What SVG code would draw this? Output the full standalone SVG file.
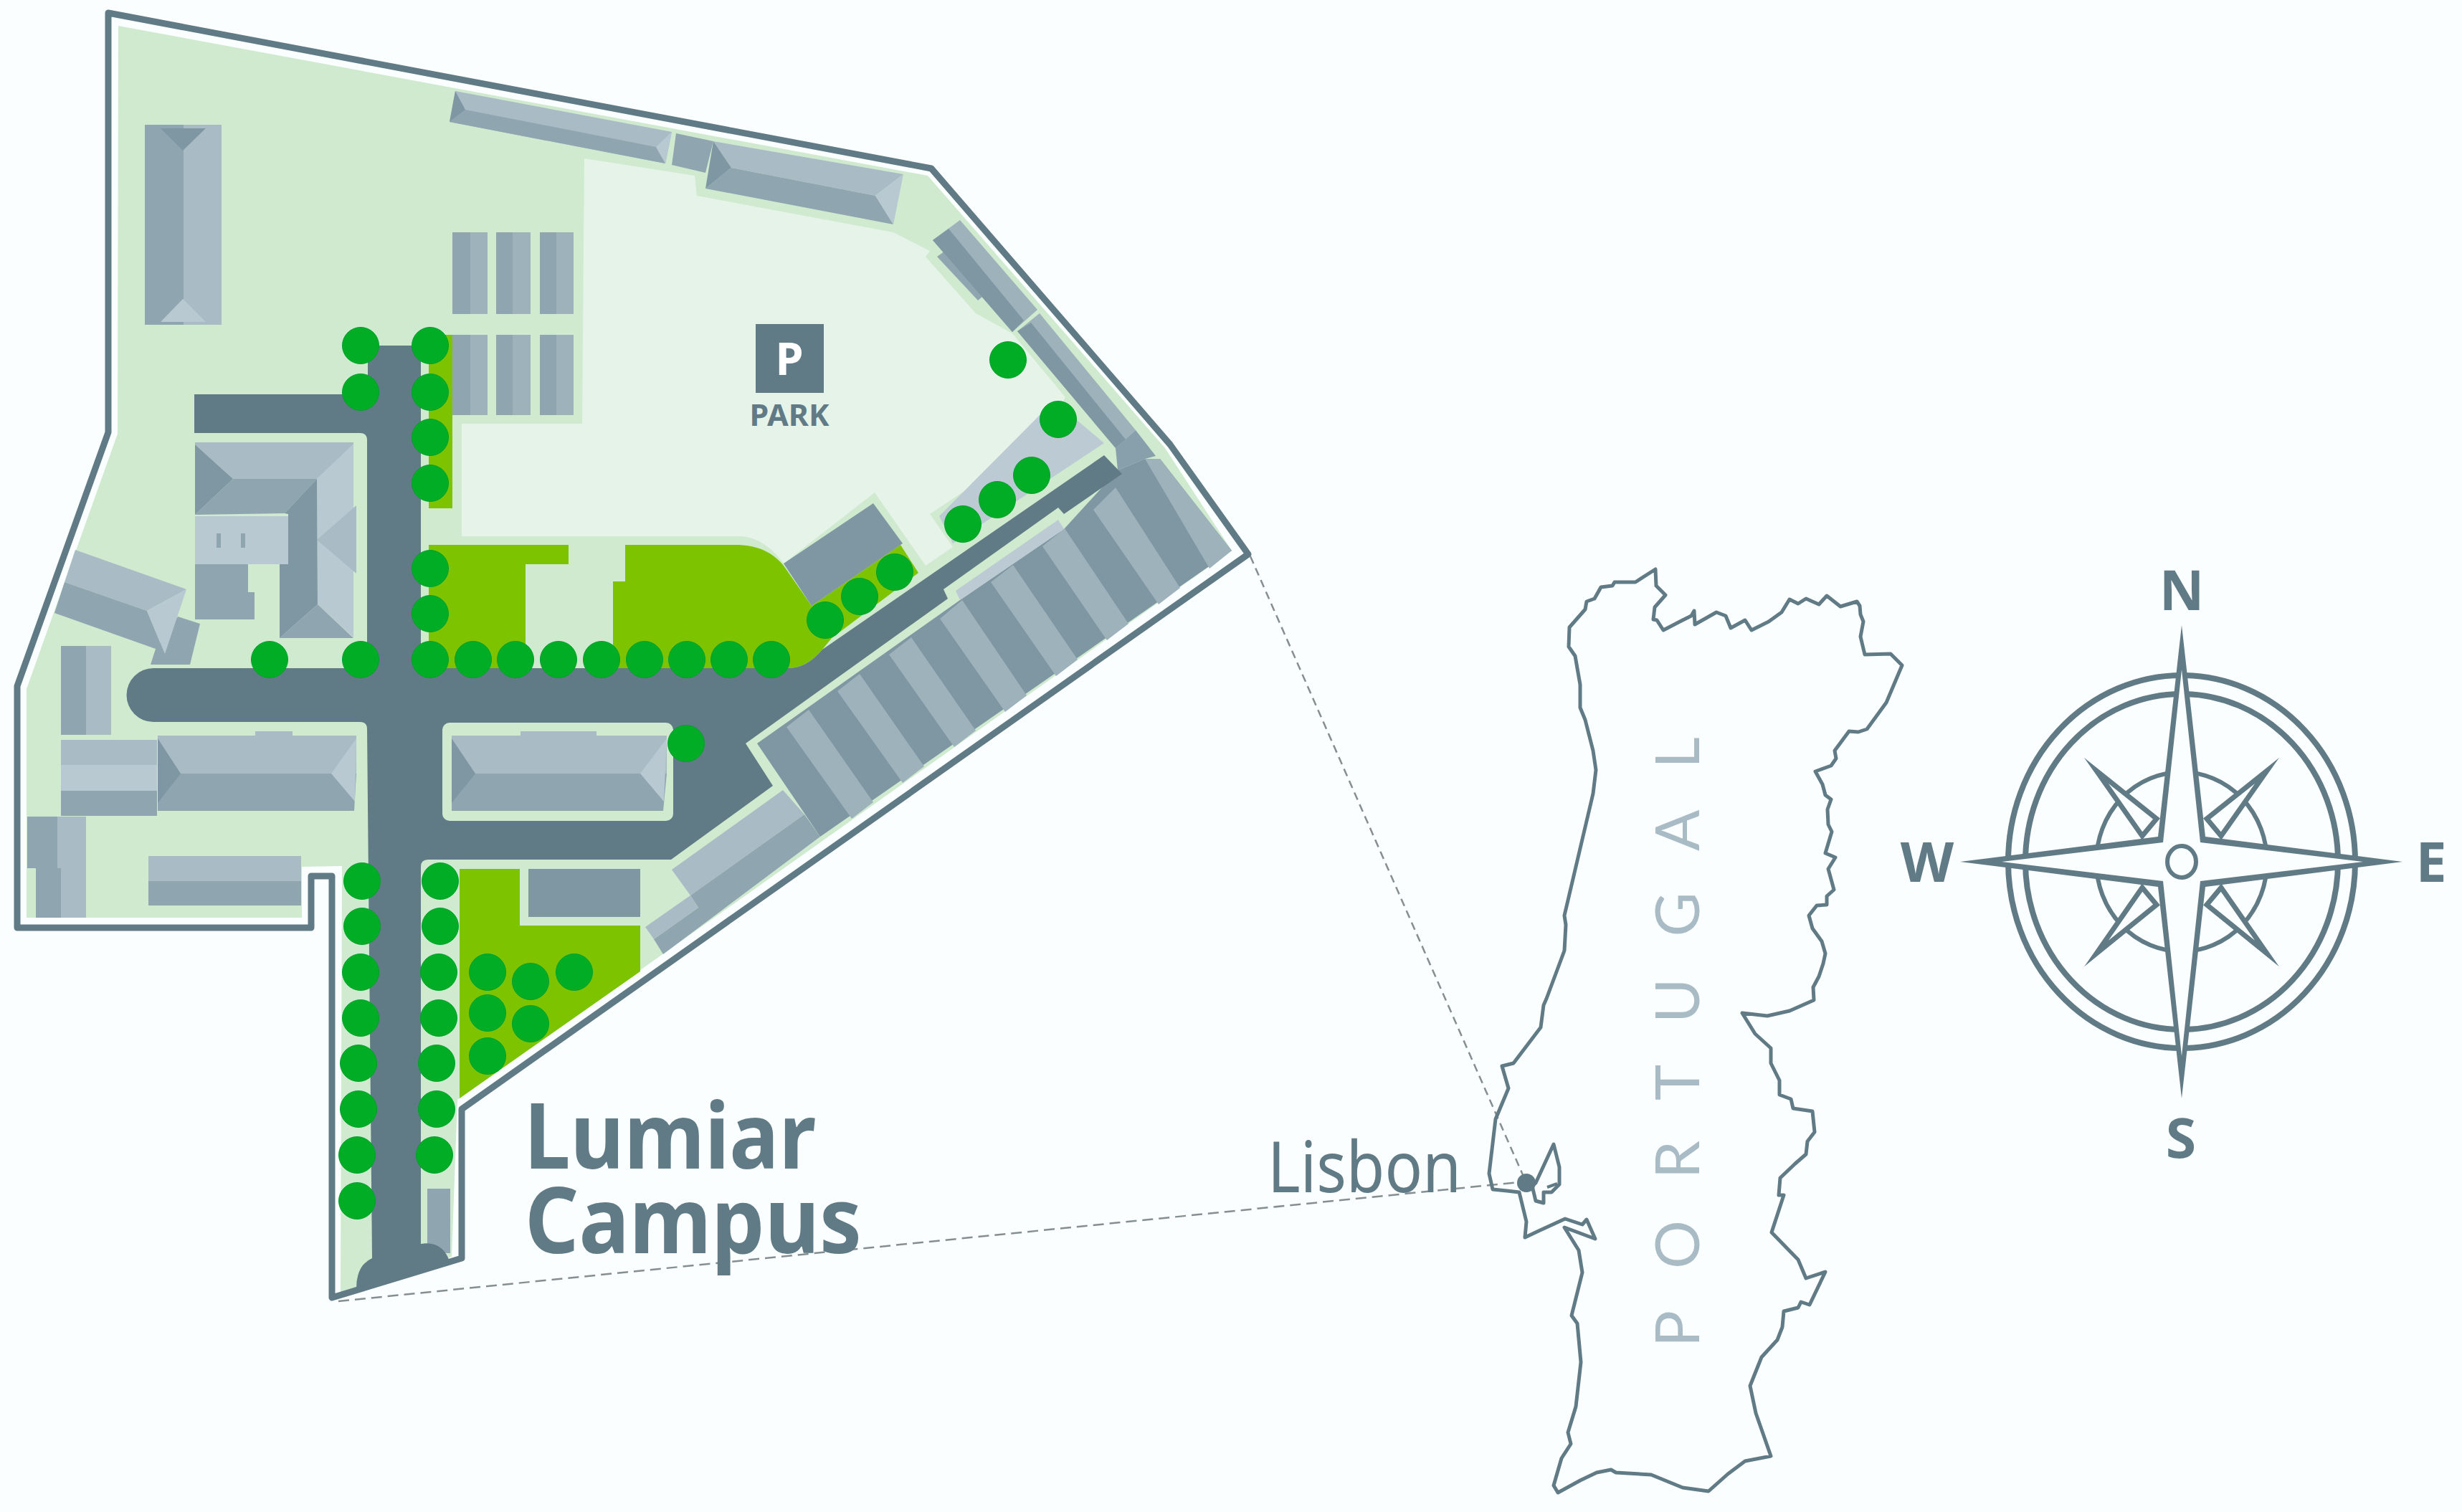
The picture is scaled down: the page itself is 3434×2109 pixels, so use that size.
<svg xmlns="http://www.w3.org/2000/svg" width="3434" height="2109" viewBox="0 0 3434 2109">
<style>
.bd{fill:#7f97a2}.bm{fill:#8fa5b0}.bl{fill:#a9bcc6}.bx{fill:#b8c9d2}.bs{fill:#9eb2bb}
.gr{fill:#7dc300}.road{fill:#607b85}.tree{fill:#00ad25;stroke:#00a02c;stroke-width:1}
.ln{fill:none;stroke:#607b85;stroke-linejoin:round}
.dash{fill:none;stroke:#858e90;stroke-width:2.5}
text{font-family:"Noto Sans","Open Sans","Liberation Sans",sans-serif;fill:#607b85}
.b{font-weight:700}
</style>
<rect width="3434" height="2109" fill="#fbfefe"/>
<g id="campus">
<path id="land" fill="#cfeacf" d="M165,36L1294,245L1625,625L1718,768L638,1534L630,1753L500,1796L475,1802L477,1208L421,1209V1280H37V961L164,605Z"/>
<path id="park-area" fill="#e6f3e8" d="M815,221L969,245L972,273L1246,324L1297,350L1291,358L1361,437L1412,465L1486,554L1457,610L1297,717L1329,763L1291,789L1220,687L1093,786Q1065,748 1030,748H644V591H812Z"/>
<path class="ln" stroke-width="9" d="M151,18L1299,235L1632,620L1741,773L644,1547V1755L463,1810V1222H434V1294H24V957L151,603Z"/>
</g>
<g id="green-areas">
<rect class="gr" x="598" y="467" width="33" height="242"/>
<path class="gr" d="M598,760H793V787H733V932H598Z"/>
<path class="gr" d="M872,760H1030Q1070,761 1093,789L1132,845L1256,760L1281,799L1160,890L1147,906Q1125,932 1100,932H855V811H872Z"/>
<path class="gr" d="M641,1212H725V1291H893V1355L641,1532Z"/>
</g>
<g id="buildings">
<g id="b-north-west"><rect class="bm" x="202" y="174" width="54" height="279"/><rect class="bl" x="256" y="174" width="53" height="279"/><path class="bd" d="M224,179H287L255,210Z"/><path class="bx" d="M224,449H287L255,417Z"/></g>
<g id="b-north-1"><path class="bl" d="M635,127L937,184L928,228L627,170Z"/><path class="bm" d="M649,153L915,205L928,228L627,170Z"/><path class="bd" d="M635,127L649,153L627,170Z"/><path class="bx" d="M937,184L915,205L928,228Z"/></g>
<path id="b-north-2" class="bm" d="M943,186L995,197L984,241L937,230Z"/>
<g id="b-north-3"><path class="bl" d="M995,197L1260,243L1221,273L1020,234Z"/><path class="bm" d="M1020,234L1221,273L1246,313L984,263Z"/><path class="bd" d="M995,197L1020,234L984,263Z"/><path class="bx" d="M1260,243L1246,313L1221,273Z"/></g>
<g id="b-parking-sheds">
<g class="bs"><rect x="631" y="324" width="49" height="114"/><rect x="692" y="324" width="48" height="114"/><rect x="753" y="324" width="47" height="114"/><rect x="631" y="467" width="49" height="112"/><rect x="692" y="467" width="48" height="112"/><rect x="753" y="467" width="47" height="112"/></g>
<g class="bm"><rect x="631" y="324" width="25" height="114"/><rect x="692" y="324" width="23" height="114"/><rect x="753" y="324" width="23" height="114"/><rect x="631" y="467" width="25" height="112"/><rect x="692" y="467" width="23" height="112"/><rect x="753" y="467" width="23" height="112"/></g>
</g>
<g id="b-east-1"><path class="bm" d="M1307,358L1325,345L1375,410L1364,419Z"/><path class="bs" d="M1339,307L1447,432L1412,463L1301,335Z"/><path class="bd" d="M1323,319L1428,447L1412,463L1301,335Z"/></g>
<g id="b-east-2"><path class="bs" d="M1450,437L1584,600L1556,625L1419,462Z"/><path class="bd" d="M1438,450L1570,613L1556,625L1419,462Z"/><path fill="#88a0ab" d="M1556,625L1584,600L1612,636L1597,640L1559,656Z"/></g>
<path id="pavement" fill="#bccad3" d="M1470,559L1540,618L1329,758L1310,720Z"/>
<g id="b-long">
<path class="bd" d="M1056,1037L1339,837L1484,738L1559,656L1597,640L1618,640L1718,768L1144,1167Z"/>
<g class="bs"><path d="M1097,1014L1128,990L1218,1119L1188,1142Z"/><path d="M1168,964L1199,940L1289,1069L1259,1092Z"/><path d="M1240,913L1271,889L1361,1019L1331,1042Z"/><path d="M1311,863L1342,837L1432,970L1402,993Z"/><path d="M1382,812L1413,788L1503,920L1473,943Z"/><path d="M1454,762L1485,737L1574,870L1544,893Z"/><path d="M1525,711L1556,680L1646,820L1616,843Z"/><path d="M1597,640L1618,640L1718,768L1687,793Z"/></g>
<path fill="#bccad3" d="M1476,725L1484,738L1339,837L1333,824Z"/>
</g>
<path id="b-centre-north" class="bd" d="M1218,702L1259,758L1132,845L1093,786Z"/>
<g id="b-south-east"><path class="bl" d="M1092,1102L1122,1136L963,1249L937,1213Z"/><path class="bm" d="M1122,1136L1144,1167L925,1331L912,1310L974,1266L963,1249Z"/><path class="bl" d="M963,1249L974,1266L912,1310L900,1293Z"/></g>
<rect id="b-south" class="bd" x="737" y="1212" width="156" height="67"/>
<g id="b-court">
<path class="bl" d="M272,617H493V620L442,668H325L272,620Z"/>
<path class="bd" d="M272,620L325,668L272,718Z"/>
<path class="bm" d="M325,668H442L397,716L272,718Z"/>
<path class="bx" d="M493,619L442,668L443,843L493,889Z"/>
<path class="bl" d="M442,753L497,705V800Z"/>
<path class="bd" d="M442,668L397,716L402,717V787H390V890L443,843Z"/>
<path class="bm" d="M443,843L390,890H493Z"/>
<rect class="bx" x="272" y="720" width="130" height="67"/>
<rect class="bm" x="302" y="744" width="6" height="20"/><rect class="bm" x="336" y="744" width="6" height="20"/>
<path class="bm" d="M272,787H346V826H355V864H272Z"/>
</g>
<g id="b-west-angled"><path class="bm" d="M248,860L279,870L265,927H210L217,905Z"/><path class="bl" d="M105,767L260,822L205,852L90,812Z"/><path class="bm" d="M90,812L205,852L230,912L217,905L76,855Z"/><path class="bx" d="M260,822L205,852L230,912Z"/></g>
<g id="b-west-1"><rect class="bm" x="85" y="901" width="35" height="124"/><rect class="bl" x="120" y="901" width="35" height="124"/></g>
<g id="b-west-2"><rect class="bl" x="85" y="1032" width="134" height="35"/><rect class="bx" x="85" y="1067" width="134" height="36"/><rect class="bm" x="85" y="1103" width="134" height="35"/></g>
<g id="b-west-3"><rect class="bl" x="356" y="1020" width="52" height="8"/><path class="bl" d="M220,1026H497V1079H220Z"/><path class="bm" d="M220,1079H497L494,1131H220Z"/><path class="bd" d="M220,1030L252,1079L220,1120Z"/><path class="bx" d="M497,1030L462,1079L495,1118Z"/></g>
<g id="b-west-4"><path class="bm" d="M38,1139H80V1211H85V1280H50V1211H38Z"/><path class="bl" d="M80,1139H120V1280H85V1211H80Z"/></g>
<g id="b-west-5"><rect class="bl" x="207" y="1194" width="213" height="35"/><rect class="bm" x="207" y="1229" width="213" height="34"/></g>
<rect id="b-gate" class="bm" x="596" y="1658" width="32" height="90"/>
</g>
<path id="roads" class="road" d="M271,550H513V482H587V932H1100Q1125,932 1147,906L1540,635L1565,661L1484,717L1476,708L1316,822L1322,835L1040,1037L1078,1096L936,1199H597Q587,1199 587,1209V1735Q618,1730 628,1762L497,1797Q497,1765 519,1755L512,1017Q512,1007 502,1007H214A37.5,37.5 0 0 1 214,932H512V614Q512,604 502,604H271Z"/>
<g id="island"><rect x="617" y="1008" width="322" height="137" rx="10" fill="#cfeacf"/>
<rect class="bl" x="726" y="1020" width="106" height="8"/><path class="bl" d="M630,1026H930V1079H630Z"/><path class="bm" d="M630,1079H930L925,1131H630Z"/><path class="bd" d="M630,1030L663,1079L630,1120Z"/><path class="bx" d="M930,1030L893,1079L926,1118Z"/></g>
<g id="trees" class="tree">
<circle cx="503" cy="482" r="25.5"/><circle cx="503" cy="547" r="25.5"/><circle cx="600" cy="482" r="25.5"/><circle cx="600" cy="547" r="25.5"/><circle cx="600" cy="610" r="25.5"/><circle cx="600" cy="674" r="25.5"/><circle cx="600" cy="793" r="25.5"/><circle cx="600" cy="856" r="25.5"/>
<circle cx="376" cy="920" r="25.5"/><circle cx="503" cy="920" r="25.5"/><circle cx="600" cy="920" r="25.5"/><circle cx="660" cy="920" r="25.5"/><circle cx="719" cy="920" r="25.5"/><circle cx="779" cy="920" r="25.5"/><circle cx="839" cy="920" r="25.5"/><circle cx="899" cy="920" r="25.5"/><circle cx="958" cy="920" r="25.5"/><circle cx="1017" cy="920" r="25.5"/><circle cx="1076" cy="920" r="25.5"/>
<circle cx="957" cy="1037" r="25.5"/><circle cx="1406" cy="502" r="25.5"/><circle cx="1476" cy="585" r="25.5"/><circle cx="1439" cy="663" r="25.5"/><circle cx="1391" cy="697" r="25.5"/><circle cx="1343" cy="731" r="25.5"/><circle cx="1248" cy="798" r="25.5"/><circle cx="1199" cy="832" r="25.5"/><circle cx="1151" cy="865" r="25.5"/>
<circle cx="505" cy="1229" r="25.5"/><circle cx="505" cy="1292" r="25.5"/><circle cx="503" cy="1356" r="25.5"/><circle cx="503" cy="1420" r="25.5"/><circle cx="500" cy="1483" r="25.5"/><circle cx="500" cy="1547" r="25.5"/><circle cx="498" cy="1611" r="25.5"/><circle cx="498" cy="1675" r="25.5"/>
<circle cx="614" cy="1229" r="25.5"/><circle cx="614" cy="1292" r="25.5"/><circle cx="612" cy="1356" r="25.5"/><circle cx="612" cy="1420" r="25.5"/><circle cx="609" cy="1483" r="25.5"/><circle cx="609" cy="1547" r="25.5"/><circle cx="606" cy="1611" r="25.5"/>
<circle cx="680" cy="1356" r="25.5"/><circle cx="740" cy="1369" r="25.5"/><circle cx="801" cy="1356" r="25.5"/><circle cx="680" cy="1413" r="25.5"/><circle cx="740" cy="1428" r="25.5"/><circle cx="680" cy="1473" r="25.5"/>
</g>
<g id="parking-sign"><rect class="road" x="1054" y="452" width="95" height="96"/><text class="b" x="1101" y="523" font-size="63" text-anchor="middle" style="fill:#fff">P</text><text class="b" x="1101" y="594" font-size="42" text-anchor="middle" textLength="111" lengthAdjust="spacingAndGlyphs">PARK</text></g>
<g id="connectors"><path class="dash" stroke-dasharray="11 7" d="M1744,776L2129,1650"/><path class="dash" stroke-dasharray="15 8" d="M472,1815L2129,1648"/></g>
<g id="title"><text class="b" x="731" y="1630" font-size="128" textLength="407" lengthAdjust="spacingAndGlyphs">Lumiar</text><text class="b" x="732" y="1748" font-size="128" textLength="470" lengthAdjust="spacingAndGlyphs">Campus</text></g>
<g id="portugal-map">
<path class="ln" stroke-width="5" d="M2309,794L2310,817L2323,830L2308,847L2306,864L2311,865L2320,879L2345,866L2359,859L2363,852L2364,871L2394,854L2407,859L2414,876L2434,865L2443,879L2467,867L2485,854L2496,836L2508,842L2519,835L2537,843L2548,831L2567,846L2590,839L2594,845L2595,857L2599,867L2595,888L2601,913L2637,912L2653,928L2631,980L2604,1017L2592,1021L2579,1020L2559,1047L2561,1058L2554,1068L2532,1076L2542,1094L2546,1109L2554,1115L2549,1129L2550,1150L2555,1160L2546,1190L2560,1196L2550,1212L2558,1241L2548,1250L2548,1262L2534,1263L2523,1277L2528,1295L2541,1313L2546,1330L2543,1344L2537,1362L2529,1377L2530,1395L2496,1410L2465,1417L2430,1413L2448,1442L2470,1462L2470,1483L2482,1507L2482,1527L2498,1533L2501,1546L2528,1550L2531,1579L2521,1592L2519,1610L2504,1623L2483,1643L2481,1667L2488,1667L2471,1719L2508,1757L2519,1783L2546,1774L2524,1820L2512,1816L2508,1824L2488,1829L2486,1851L2479,1869L2457,1893L2441,1933L2449,1971L2470,2031L2434,2038L2410,2056L2383,2080L2347,2075L2303,2057L2254,2054L2247,2050L2227,2054L2204,2065L2173,2082L2167,2072L2178,2034L2191,2014L2187,1998L2198,1962L2205,1900L2200,1846L2192,1835L2207,1775L2202,1744L2182,1712L2225,1728L2213,1701L2207,1708L2183,1700L2146,1717L2127,1726L2129,1704L2119,1663L2102,1661L2082,1659L2077,1637L2086,1561L2104,1518L2095,1487L2111,1483L2149,1433L2153,1402L2157,1393L2182,1326L2184,1290L2182,1277L2222,1107L2226,1074L2222,1047L2211,1004L2204,987L2204,955L2197,915L2188,902L2189,875L2211,850L2213,839L2224,835L2233,819L2249,817L2252,812L2281,812Z"/>
<path class="ln" stroke-width="5" d="M2142,1650L2167,1596L2175,1628L2175,1652L2164,1663L2153,1663L2153,1678L2142,1675L2137,1654Z"/>
<path class="ln" stroke-width="4" d="M2158,1656L2172,1651"/>
<circle class="road" cx="2129" cy="1650" r="13"/>
<text x="1768" y="1663" font-size="98" textLength="270" lengthAdjust="spacingAndGlyphs">Lisbon</text>
<text transform="translate(2370,1879) rotate(-90)" font-size="85" style="font-family:Lato,'Noto Sans',sans-serif;fill:#a9bcc6" textLength="851" lengthAdjust="spacing">PORTUGAL</text>
</g>
<g id="compass">
<ellipse class="ln" stroke-width="8" cx="3043" cy="1202" rx="242" ry="260"/>
<ellipse class="ln" stroke-width="8" cx="3043" cy="1202" rx="218" ry="234"/>
<ellipse class="ln" stroke-width="6" cx="3043" cy="1202" rx="119" ry="125"/>
<g fill="#fbfefe" stroke="#607b85" stroke-width="7" stroke-linejoin="miter" stroke-miterlimit="30">
<path d="M3162,1075L3078,1142L3098,1166Z"/><path d="M2924,1075L3008,1142L2988,1166Z"/><path d="M3162,1330L3078,1262L3098,1238Z"/><path d="M2924,1330L3008,1262L2988,1238Z"/>
</g>
<path fill="#607b85" d="M3043,872L3076,1167L3351,1202L3076,1237L3043,1532L3010,1237L2734,1202L3010,1167Z"/>
<path fill="#fbfefe" d="M3043,934L3069,1175L3296,1202L3069,1229L3043,1473L3017,1229L2792,1202L3017,1175Z"/>
<ellipse class="ln" stroke-width="6" cx="3043" cy="1202" rx="20" ry="22"/>
<g class="b" font-size="77" text-anchor="middle"><text x="3043" y="851">N</text><text x="3042" y="1615">S</text><text x="2688" y="1230">W</text><text x="3391" y="1230">E</text></g>
</g>
</svg>
